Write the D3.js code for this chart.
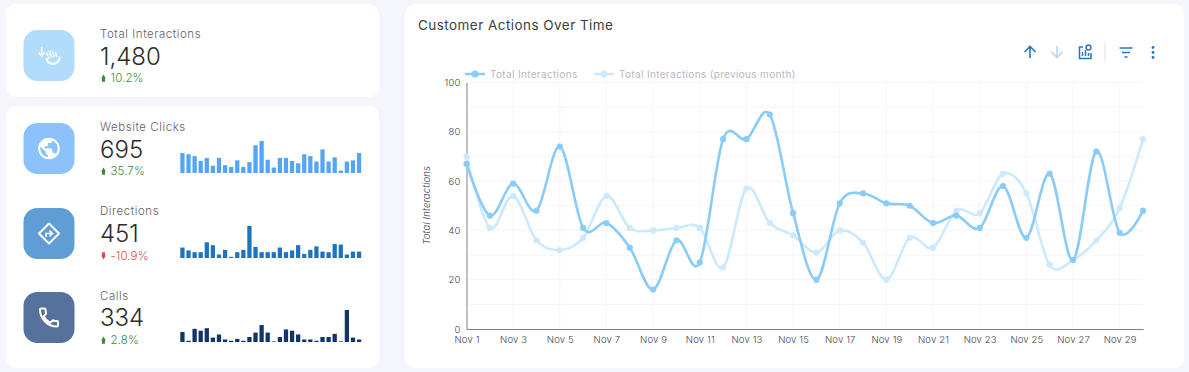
<!DOCTYPE html>
<html>
<head>
<meta charset="utf-8">
<script src="https://cdn.jsdelivr.net/npm/d3@7"></script>
<style>
  html, body { margin: 0; padding: 0; background: #f4f6fb; }
  svg { display: block; }
  text { font-family: Inter, "Open Sans", sans-serif; }
  .tick text { font-family: Inter, "Open Sans", sans-serif; }
</style>
</head>
<body>
<svg id="chart" width="1189" height="372"></svg>
<script>
const days = d3.range(1, 31).map((d) => `Nov ${d}`);
const tickDays = days.filter((_, i) => i % 2 === 0);
const yTicks = [0, 20, 40, 60, 80, 100];
const yGrid = [10, 20, 30, 40, 50, 60, 70, 80, 90, 100];

const totalCurrent = [67, 46, 59, 48, 74, 41, 43, 33, 16, 36, 27, 77, 77, 87, 47, 20, 51, 55, 51, 50, 43, 46, 41, 58, 37, 63, 28, 72, 39, 48];
const totalPrevious = [70, 41, 54, 36, 32, 37, 54, 41, 40, 41, 41, 25, 57, 43, 38, 31, 40, 35, 20, 37, 33, 48, 47, 63, 55, 26, 28, 36, 49, 77];

const clicks = [33, 31, 28, 20, 25, 12, 25, 13, 10, 21, 10, 18, 46, 53, 22, 9, 25, 25, 20, 16, 31, 28, 19, 39, 19, 26, 4, 19, 21, 33];
const directions = [18, 13, 10, 10, 27, 22, 6, 14, 2, 10, 14, 55, 19, 10, 10, 10, 18, 10, 13, 22, 7, 14, 20, 11, 10, 24, 23, 6, 11, 11];
const calls = [16, 2, 21, 18, 22, 7, 12, 4, 2, 5, 2, 8, 15, 27, 15, 1, 8, 20, 18, 12, 4, 4, 2, 8, 8, 13, 1, 51, 7, 4];

const svg = d3.select('#chart');

// Cards
[
  [6, 4, 373, 93],
  [6, 106, 373, 262],
  [405, 4, 779, 364],
].forEach(([x, y, w, h]) => {
  svg.append('rect').attr('x', x).attr('y', y).attr('width', w).attr('height', h)
    .attr('rx', 10).attr('fill', '#ffffff');
});

const ICON_SIZE = 51;

// Icon glyphs, drawn in a box centred on 0,0
const glyphs = {
  touch: (g) => {
    g.attr('transform', `${g.attr('transform')} translate(1,0) scale(0.88)`);
    g.append('path').attr('d', 'M-9.5 -10V0M-13 -3.5L-9.5 0.5L-6 -3.5')
      .attr('fill', 'none').attr('stroke', '#fff').attr('stroke-width', 1.6);
    g.append('path').attr('d', 'M-4 -3L-1 3M-1 -5L2 2M2.5 -5L4.5 1M6 -3.5L7.5 1')
      .attr('fill', 'none').attr('stroke', '#fff').attr('stroke-width', 1.7).attr('stroke-linecap', 'round');
    g.append('path').attr('d', 'M-4 3C-3 7 -1 9.5 3 9.5C8 9.5 11 6 11 1')
      .attr('fill', 'none').attr('stroke', '#fff').attr('stroke-width', 2.4);
  },
  globe: (g) => {
    g.append('path')
      .attr('transform', 'translate(-13,-13) scale(1.083)')
      .attr('fill', '#fff')
      .attr('d', 'M12 2C6.48 2 2 6.48 2 12s4.48 10 10 10 10-4.48 10-10S17.52 2 12 2zm-1 17.93c-3.95-.49-7-3.85-7-7.93 0-.62.08-1.21.21-1.79L9 15v1c0 1.1.9 2 2 2v1.93zm6.9-2.54c-.26-.81-1-1.39-1.9-1.39h-1v-3c0-.55-.45-1-1-1H8v-2h2c.55 0 1-.45 1-1V7h2c1.1 0 2-.9 2-2v-.41c2.93 1.19 5 4.06 5 7.41 0 2.08-.8 3.97-2.1 5.39z');
  },
  diamond: (g) => {
    g.append('path').attr('d', 'M0 -10L10 0L0 10L-10 0Z')
      .attr('fill', 'none').attr('stroke', '#fff').attr('stroke-width', 2).attr('stroke-linejoin', 'round');
    g.append('path').attr('d', 'M-3 3.500V0H3M0.500 -2.800L3.500 0L0.500 2.800')
      .attr('fill', 'none').attr('stroke', '#fff').attr('stroke-width', 1.6);
  },
  phone: (g) => {
    g.append('path')
      .attr('transform', 'translate(-12,-12)')
      .attr('fill', 'none').attr('stroke', '#fff').attr('stroke-width', 2).attr('stroke-linejoin', 'round')
      .attr('d', 'M6.62 10.79c1.44 2.83 3.76 5.14 6.59 6.59l2.2-2.2c.27-.27.67-.36 1.02-.24 1.12.37 2.33.57 3.57.57.55 0 1 .45 1 1V20c0 .55-.45 1-1 1-9.39 0-17-7.61-17-17 0-.55.45-1 1-1h3.5c.55 0 1 .45 1 1 0 1.25.2 2.45.57 3.57.11.35.03.74-.25 1.02l-2.2 2.2z');
  },
};

// Sparkline bars share one horizontal band scale
const sparkX = d3.scaleBand().domain(days).range([180, 361.5]).paddingInner(0.3).paddingOuter(0.05);

const drawDelta = (x, y, up, color, label) => {
  const dir = up ? 1 : -1;
  const g = svg.append('g').attr('transform', `translate(${x},${y})`);
  g.append('path')
    .attr('d', `M-2.300 ${dir * 0.5}L0 ${-dir * 3.5}L2.300 ${dir * 0.5}L1.500 ${dir * 0.5}V${dir * 3.8}H-1.500V${dir * 0.5}Z`)
    .attr('fill', color);
  svg.append('text').attr('x', x + 7).attr('y', y + 4.3)
    .attr('font-size', 11.5).attr('font-weight', 300).attr('letter-spacing', 0.1).attr('fill', color).text(label);
};

const drawKpi = ({ top, color, glyph, label, value, delta, up, bars, barColor, labelDy = 0, valueDy = 0 }) => {
  svg.append('rect').attr('x', 23.5).attr('y', top).attr('width', ICON_SIZE).attr('height', ICON_SIZE)
    .attr('rx', 14).attr('fill', color);
  const g = svg.append('g').attr('transform', `translate(49,${top + ICON_SIZE / 2})`);
  glyphs[glyph](g);

  svg.append('text').attr('x', 100).attr('y', top + 8 + labelDy)
    .attr('font-size', 11.5).attr('font-weight', 300).attr('letter-spacing', 0.55).attr('fill', '#5f5f5f').text(label);
  svg.append('text').attr('x', 100).attr('y', top + 35 + valueDy)
    .attr('font-size', 24).attr('font-weight', 300).attr('fill', '#2c2c2c').text(value);
  drawDelta(103.5, top + 48, up, up ? '#3b8a37' : '#e5484d', delta);

  if (bars) {
    const base = top + 50;
    const sparkY = d3.scaleLinear().domain([0, d3.max(bars)]).range([base, base - 32]);
    svg.append('g').selectAll('rect').data(bars).join('rect')
      .attr('x', (d, i) => sparkX(days[i]))
      .attr('width', sparkX.bandwidth())
      .attr('y', (d) => sparkY(d))
      .attr('height', (d) => base - sparkY(d))
      .attr('fill', barColor);
  }
};

drawKpi({ top: 30, color: '#b2dcfc', glyph: 'touch', label: 'Total Interactions', value: '1,480', delta: '10.2%', up: true });
drawKpi({ top: 123, color: '#8cc2fb', glyph: 'globe', label: 'Website Clicks', value: '695', delta: '35.7%', up: true, bars: clicks, barColor: '#55a5f5' });
drawKpi({ top: 208, color: '#5f9dd4', glyph: 'diamond', label: 'Directions', value: '451', delta: '-10.9%', up: false, bars: directions, barColor: '#1f72bd', labelDy: -1, valueDy: -1 });
drawKpi({ top: 292, color: '#56719b', glyph: 'phone', label: 'Calls', value: '334', delta: '2.8%', up: true, bars: calls, barColor: '#11346b', valueDy: -1 });

// Line chart
svg.append('text').attr('x', 418).attr('y', 30)
  .attr('font-size', 13.5).attr('font-weight', 400).attr('letter-spacing', 0.45).attr('fill', '#3d3d3d').text('Customer Actions Over Time');

const x = d3.scalePoint().domain(days).range([466.5, 1143]);
const y = d3.scaleLinear().domain([0, 100]).range([329, 82.5]);

const grid = svg.append('g').attr('stroke', '#f3f5f8').attr('stroke-width', 1);
grid.selectAll('.v').data(tickDays.slice(1)).join('line').attr('class', 'v')
  .attr('x1', (d) => x(d)).attr('x2', (d) => x(d)).attr('y1', y(100)).attr('y2', y(0));
grid.selectAll('.h').data(yGrid).join('line').attr('class', 'h')
  .attr('x1', x(days[0])).attr('x2', x(days[29])).attr('y1', (d) => y(d)).attr('y2', (d) => y(d));

const xAxis = svg.append('g').attr('transform', `translate(0,${y(0)})`)
  .call(d3.axisBottom(x).tickValues(tickDays).tickSize(0).tickPadding(7));
const yAxis = svg.append('g').attr('transform', `translate(${x(days[0])},0)`)
  .call(d3.axisLeft(y).tickValues(yTicks).tickSize(0).tickPadding(6));

[xAxis, yAxis].forEach((axis) => {
  axis.select('.domain').attr('stroke', '#7d8290').attr('stroke-width', 1);
  axis.selectAll('.tick text').attr('font-size', 9.5).attr('font-weight', 300).attr('letter-spacing', 0.15).attr('fill', '#3f4350');
});

svg.append('text')
  .attr('transform', `translate(430,${y(50) - 0.5}) rotate(-90)`)
  .attr('text-anchor', 'middle')
  .attr('font-size', 9.5).attr('font-style', 'italic').attr('font-weight', 300).attr('letter-spacing', 0.15).attr('fill', '#3f4350')
  .text('Total Interactions');

const line = d3.line()
  .x((d, i) => x(days[i]))
  .y((d) => y(d))
  .curve(d3.curveCatmullRom.alpha(0));

const drawSeries = (values, color) => {
  svg.append('path').attr('d', line(values)).attr('fill', 'none')
    .attr('stroke', color).attr('stroke-width', 2.6);
  svg.append('g').selectAll('circle').data(values).join('circle')
    .attr('cx', (d, i) => x(days[i]))
    .attr('cy', (d) => y(d))
    .attr('r', 3.1)
    .attr('fill', color);
};

const currentColor = '#8accf7';
const previousColor = '#cde9fc';
drawSeries(totalPrevious, previousColor);
drawSeries(totalCurrent, currentColor);

// Legend
[
  [465, currentColor, 'Total Interactions'],
  [594, previousColor, 'Total Interactions (previous month)'],
].forEach(([lx, color, label]) => {
  svg.append('line').attr('x1', lx).attr('x2', lx + 20).attr('y1', 74).attr('y2', 74)
    .attr('stroke', color).attr('stroke-width', 2.4);
  svg.append('circle').attr('cx', lx + 10).attr('cy', 74).attr('r', 3.5).attr('fill', color);
  svg.append('text').attr('x', lx + 25).attr('y', 77.5)
    .attr('font-size', 10).attr('letter-spacing', 0.34).attr('fill', '#b4b8c4').text(label);
});

// Toolbar
const toolColor = '#2a76bb';
const toolFade = '#b9d4ec';
const tool = (d, color, sw = 1.6) => svg.append('path').attr('d', d).attr('fill', 'none')
  .attr('stroke', color).attr('stroke-width', sw);

tool('M1030 58V47M1024.5 52L1030 46.5L1035.5 52', toolColor);
tool('M1057 46V57M1051.5 52L1057 57.5L1062.5 52', toolFade);
tool('M1083 47H1079.5V58.5H1091V53', toolColor, 1.5);
tool('M1082.5 56V52M1085.5 56V50M1088.5 56V53', toolColor, 1.5);
svg.append('circle').attr('cx', 1088.5).attr('cy', 47.5).attr('r', 2.4).attr('fill', 'none')
  .attr('stroke', toolColor).attr('stroke-width', 1.5);
svg.append('line').attr('x1', 1105).attr('x2', 1105).attr('y1', 43).attr('y2', 61)
  .attr('stroke', '#d5e3f1').attr('stroke-width', 1);
tool('M1119.5 48H1132.5M1122 52.500H1130M1124.500 57H1127.500', toolColor, 1.4);
[47.5, 52.5, 57.5].forEach((cy) => {
  svg.append('circle').attr('cx', 1153).attr('cy', cy).attr('r', 1.4).attr('fill', toolColor);
});
</script>
</body>
</html>
